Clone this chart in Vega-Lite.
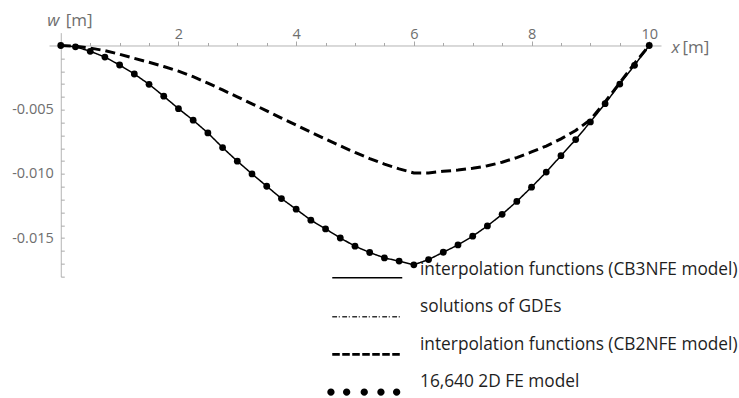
{
  "$schema": "https://vega.github.io/schema/vega-lite/v6.json",
  "width": 612,
  "height": 244,
  "autosize": {"type": "none"},
  "padding": {"left": 49, "top": 32.65, "right": 78, "bottom": 121.35},
  "background": "white",
  "config": {"view": {"stroke": null}, "font": "Open Sans"},
  "datasets": {
    "w": [
      {"x": 0, "w": 0, "s": "CB3NFE"}, {"x": 0.25, "w": -0.0001, "s": "CB3NFE"}, {"x": 0.5, "w": -0.00045, "s": "CB3NFE"}, {"x": 0.75, "w": -0.0009, "s": "CB3NFE"},
      {"x": 1, "w": -0.00152, "s": "CB3NFE"}, {"x": 1.25, "w": -0.00222, "s": "CB3NFE"}, {"x": 1.5, "w": -0.00302, "s": "CB3NFE"}, {"x": 1.75, "w": -0.00395, "s": "CB3NFE"},
      {"x": 2, "w": -0.00492, "s": "CB3NFE"}, {"x": 2.25, "w": -0.00582, "s": "CB3NFE"}, {"x": 2.5, "w": -0.00681, "s": "CB3NFE"}, {"x": 2.75, "w": -0.00795, "s": "CB3NFE"},
      {"x": 3, "w": -0.00901, "s": "CB3NFE"}, {"x": 3.25, "w": -0.01, "s": "CB3NFE"}, {"x": 3.5, "w": -0.01096, "s": "CB3NFE"}, {"x": 3.75, "w": -0.01192, "s": "CB3NFE"},
      {"x": 4, "w": -0.01275, "s": "CB3NFE"}, {"x": 4.25, "w": -0.0136, "s": "CB3NFE"}, {"x": 4.5, "w": -0.01428, "s": "CB3NFE"}, {"x": 4.75, "w": -0.01499, "s": "CB3NFE"},
      {"x": 5, "w": -0.01563, "s": "CB3NFE"}, {"x": 5.25, "w": -0.01612, "s": "CB3NFE"}, {"x": 5.5, "w": -0.01654, "s": "CB3NFE"}, {"x": 5.75, "w": -0.01679, "s": "CB3NFE"},
      {"x": 6, "w": -0.01708, "s": "CB3NFE"}, {"x": 6.25, "w": -0.01667, "s": "CB3NFE"}, {"x": 6.5, "w": -0.0161, "s": "CB3NFE"}, {"x": 6.75, "w": -0.01553, "s": "CB3NFE"},
      {"x": 7, "w": -0.01485, "s": "CB3NFE"}, {"x": 7.25, "w": -0.01405, "s": "CB3NFE"}, {"x": 7.5, "w": -0.01315, "s": "CB3NFE"}, {"x": 7.75, "w": -0.01214, "s": "CB3NFE"},
      {"x": 8, "w": -0.01103, "s": "CB3NFE"}, {"x": 8.25, "w": -0.00986, "s": "CB3NFE"}, {"x": 8.5, "w": -0.00858, "s": "CB3NFE"}, {"x": 8.75, "w": -0.00733, "s": "CB3NFE"},
      {"x": 9, "w": -0.00595, "s": "CB3NFE"}, {"x": 9.25, "w": -0.00453, "s": "CB3NFE"}, {"x": 9.5, "w": -0.003, "s": "CB3NFE"}, {"x": 9.75, "w": -0.00154, "s": "CB3NFE"},
      {"x": 10, "w": 0, "s": "CB3NFE"},

      {"x": 0, "w": 0, "s": "FE"}, {"x": 0.25, "w": -0.0001, "s": "FE"}, {"x": 0.5, "w": -0.00045, "s": "FE"}, {"x": 0.75, "w": -0.0009, "s": "FE"},
      {"x": 1, "w": -0.00152, "s": "FE"}, {"x": 1.25, "w": -0.00222, "s": "FE"}, {"x": 1.5, "w": -0.00302, "s": "FE"}, {"x": 1.75, "w": -0.00395, "s": "FE"},
      {"x": 2, "w": -0.00492, "s": "FE"}, {"x": 2.25, "w": -0.00582, "s": "FE"}, {"x": 2.5, "w": -0.00681, "s": "FE"}, {"x": 2.75, "w": -0.00795, "s": "FE"},
      {"x": 3, "w": -0.00901, "s": "FE"}, {"x": 3.25, "w": -0.01, "s": "FE"}, {"x": 3.5, "w": -0.01096, "s": "FE"}, {"x": 3.75, "w": -0.01192, "s": "FE"},
      {"x": 4, "w": -0.01275, "s": "FE"}, {"x": 4.25, "w": -0.0136, "s": "FE"}, {"x": 4.5, "w": -0.01428, "s": "FE"}, {"x": 4.75, "w": -0.01499, "s": "FE"},
      {"x": 5, "w": -0.01563, "s": "FE"}, {"x": 5.25, "w": -0.01612, "s": "FE"}, {"x": 5.5, "w": -0.01654, "s": "FE"}, {"x": 5.75, "w": -0.01679, "s": "FE"},
      {"x": 6, "w": -0.01708, "s": "FE"}, {"x": 6.25, "w": -0.01667, "s": "FE"}, {"x": 6.5, "w": -0.0161, "s": "FE"}, {"x": 6.75, "w": -0.01553, "s": "FE"},
      {"x": 7, "w": -0.01485, "s": "FE"}, {"x": 7.25, "w": -0.01405, "s": "FE"}, {"x": 7.5, "w": -0.01315, "s": "FE"}, {"x": 7.75, "w": -0.01214, "s": "FE"},
      {"x": 8, "w": -0.01103, "s": "FE"}, {"x": 8.25, "w": -0.00986, "s": "FE"}, {"x": 8.5, "w": -0.00858, "s": "FE"}, {"x": 8.75, "w": -0.00733, "s": "FE"},
      {"x": 9, "w": -0.00595, "s": "FE"}, {"x": 9.25, "w": -0.00453, "s": "FE"}, {"x": 9.5, "w": -0.003, "s": "FE"}, {"x": 9.75, "w": -0.00154, "s": "FE"},
      {"x": 10, "w": 0, "s": "FE"},

      {"x": 0, "w": 0, "s": "CB2NFE"}, {"x": 0.25, "w": -0.00005, "s": "CB2NFE"}, {"x": 0.5, "w": -0.0002, "s": "CB2NFE"}, {"x": 0.75, "w": -0.0004, "s": "CB2NFE"},
      {"x": 1, "w": -0.00068, "s": "CB2NFE"}, {"x": 1.25, "w": -0.001, "s": "CB2NFE"}, {"x": 1.5, "w": -0.00131, "s": "CB2NFE"}, {"x": 1.75, "w": -0.00164, "s": "CB2NFE"},
      {"x": 2, "w": -0.002, "s": "CB2NFE"}, {"x": 2.25, "w": -0.00243, "s": "CB2NFE"}, {"x": 2.5, "w": -0.00293, "s": "CB2NFE"}, {"x": 2.75, "w": -0.00346, "s": "CB2NFE"},
      {"x": 3, "w": -0.004, "s": "CB2NFE"}, {"x": 3.25, "w": -0.00454, "s": "CB2NFE"}, {"x": 3.5, "w": -0.00509, "s": "CB2NFE"}, {"x": 3.75, "w": -0.00565, "s": "CB2NFE"},
      {"x": 4, "w": -0.0062, "s": "CB2NFE"}, {"x": 4.25, "w": -0.00675, "s": "CB2NFE"}, {"x": 4.5, "w": -0.00729, "s": "CB2NFE"}, {"x": 4.75, "w": -0.00782, "s": "CB2NFE"},
      {"x": 5, "w": -0.00833, "s": "CB2NFE"}, {"x": 5.25, "w": -0.00881, "s": "CB2NFE"}, {"x": 5.5, "w": -0.00924, "s": "CB2NFE"}, {"x": 5.75, "w": -0.00961, "s": "CB2NFE"},
      {"x": 6, "w": -0.00992, "s": "CB2NFE"}, {"x": 6.25, "w": -0.00992, "s": "CB2NFE"}, {"x": 6.5, "w": -0.0098, "s": "CB2NFE"}, {"x": 6.75, "w": -0.0097, "s": "CB2NFE"},
      {"x": 7, "w": -0.00956, "s": "CB2NFE"}, {"x": 7.25, "w": -0.00937, "s": "CB2NFE"}, {"x": 7.5, "w": -0.00909, "s": "CB2NFE"}, {"x": 7.75, "w": -0.00873, "s": "CB2NFE"},
      {"x": 8, "w": -0.00829, "s": "CB2NFE"}, {"x": 8.25, "w": -0.00783, "s": "CB2NFE"}, {"x": 8.5, "w": -0.00727, "s": "CB2NFE"}, {"x": 8.75, "w": -0.00662, "s": "CB2NFE"},
      {"x": 9, "w": -0.00578, "s": "CB2NFE"}, {"x": 9.25, "w": -0.0044, "s": "CB2NFE"}, {"x": 9.5, "w": -0.0029, "s": "CB2NFE"}, {"x": 9.75, "w": -0.0014, "s": "CB2NFE"},
      {"x": 10, "w": 0, "s": "CB2NFE"}
    ]
  },
  "data": {"name": "w"},
  "resolve": {"axis": {"x": "independent", "y": "independent"}},
  "layer": [
    {
      "transform": [{"filter": "datum.s !== 'FE'"}],
      "mark": {"type": "line", "color": "black"},
      "encoding": {
        "x": {
          "field": "x", "type": "quantitative",
          "scale": {"domain": [-0.2, 10.2], "nice": false, "zero": false},
          "axis": {
            "orient": "top", "offset": -12.84, "values": [2, 4, 6, 8, 10], "format": "d",
            "grid": false, "domain": true, "domainColor": "#b4b4b4", "domainWidth": 1,
            "ticks": true, "tickSize": 4.5, "tickColor": "#a8a8a8", "tickWidth": 1,
            "labelFont": "Open Sans", "labelFontSize": 14.5, "labelColor": "#6e6e6e",
            "labelPadding": 2.7, "labelBaseline": "alphabetic", "labelFlush": false, "labelOverlap": false,
            "title": "x", "titleFont": "Open Sans", "titleFontSize": 17, "titleFontStyle": "italic",
            "titleFontWeight": "normal", "titleColor": "#6e6e6e", "titleX": 622, "titleY": 7.5,
            "titleAlign": "left", "titleBaseline": "alphabetic", "titleAngle": 0
          }
        },
        "y": {
          "field": "w", "type": "quantitative",
          "scale": {"domain": [-0.018, 0.001], "nice": false, "zero": false},
          "axis": {
            "orient": "left", "offset": -11.77, "values": [-0.005, -0.01, -0.015],
            "labelExpr": "'-' + format(-datum.value, '.3f')",
            "grid": false, "domain": true, "domainColor": "#b4b4b4", "domainWidth": 1,
            "ticks": false, "labelPadding": 7.5,
            "labelFont": "Open Sans", "labelFontSize": 14.5, "labelColor": "#6e6e6e",
            "labelFlush": false, "labelOverlap": false,
            "title": "w", "titleFont": "Open Sans", "titleFontSize": 17, "titleFontStyle": "italic",
            "titleFontWeight": "normal", "titleColor": "#6e6e6e", "titleX": -14, "titleY": -7.65,
            "titleAlign": "left", "titleBaseline": "alphabetic", "titleAngle": 0
          }
        },
        "strokeDash": {
          "field": "s", "type": "nominal",
          "scale": {"domain": ["CB3NFE", "GDE", "CB2NFE", "FE"], "range": [[1, 0], [6, 3, 1, 3], [10, 5], [1, 0]]},
          "legend": {
            "title": null, "orient": "none", "legendX": 283, "legendY": 228.5, "direction": "vertical",
            "padding": 0, "offset": 0, "symbolSize": 306.25, "symbolStrokeWidth": 0,
            "symbolStrokeColor": "transparent", "symbolOpacity": 1,
            "labelOffset": 70, "labelFont": "Open Sans", "labelFontSize": 17.3, "labelColor": "#1e1e1e",
            "labelLimit": 600, "rowPadding": 5.3,
            "labelExpr": "datum.value === 'CB3NFE' ? 'interpolation functions (CB3NFE model)' : datum.value === 'GDE' ? 'solutions of GDEs' : datum.value === 'CB2NFE' ? 'interpolation functions (CB2NFE model)' : '16,640 2D FE model'",
            "symbolFillColor": {"expr": "datum.value === 'GDE' ? '#333333' : '#000000'"},
            "symbolType": {"expr": "datum.value === 'CB3NFE' ? 'M-1,-1.5M-1,2M-1,0.784L7,0.784L7,0.956L-1,0.956Z' : datum.value === 'GDE' ? 'M-1,-1.5M-1,2M-1,0.98L-0.45,0.98L-0.45,1.15L-1,1.15ZM-0.26,0.98L-0.14,0.98L-0.14,1.15L-0.26,1.15ZM0.143,0.98L0.693,0.98L0.693,1.15L0.143,1.15ZM0.883,0.98L1.003,0.98L1.003,1.15L0.883,1.15ZM1.286,0.98L1.836,0.98L1.836,1.15L1.286,1.15ZM2.026,0.98L2.146,0.98L2.146,1.15L2.026,1.15ZM2.429,0.98L2.979,0.98L2.979,1.15L2.429,1.15ZM3.169,0.98L3.289,0.98L3.289,1.15L3.169,1.15ZM3.571,0.98L4.121,0.98L4.121,1.15L3.571,1.15ZM4.311,0.98L4.431,0.98L4.431,1.15L4.311,1.15ZM4.714,0.98L5.264,0.98L5.264,1.15L4.714,1.15ZM5.454,0.98L5.574,0.98L5.574,1.15L5.454,1.15ZM5.857,0.98L6.407,0.98L6.407,1.15L5.857,1.15ZM6.597,0.98L6.717,0.98L6.717,1.15L6.597,1.15Z' : datum.value === 'CB2NFE' ? 'M-1,-1.5M-1,2M-1,0.929L-0.14,0.929L-0.14,1.271L-1,1.271ZM0.143,0.929L1.003,0.929L1.003,1.271L0.143,1.271ZM1.286,0.929L2.146,0.929L2.146,1.271L1.286,1.271ZM2.429,0.929L3.289,0.929L3.289,1.271L2.429,1.271ZM3.571,0.929L4.431,0.929L4.431,1.271L3.571,1.271ZM4.714,0.929L5.574,0.929L5.574,1.271L4.714,1.271ZM5.857,0.929L6.717,0.929L6.717,1.271L5.857,1.271Z' : 'M-1,-1.5M-1,2M-1.569,1.15A0.42,0.42,0,1,1,-0.729,1.15A0.42,0.42,0,1,1,-1.569,1.15ZM0.226,1.15A0.42,0.42,0,1,1,1.066,1.15A0.42,0.42,0,1,1,0.226,1.15ZM2.237,1.15A0.42,0.42,0,1,1,3.077,1.15A0.42,0.42,0,1,1,2.237,1.15ZM4.146,1.15A0.42,0.42,0,1,1,4.986,1.15A0.42,0.42,0,1,1,4.146,1.15ZM5.94,1.15A0.42,0.42,0,1,1,6.78,1.15A0.42,0.42,0,1,1,5.94,1.15Z'"}
          }
        },
        "strokeWidth": {"condition": {"test": "datum.s === 'CB2NFE'", "value": 3}, "value": 1.5}
      }
    },
    {
      "transform": [{"filter": "datum.s === 'FE'"}],
      "mark": {"type": "point", "filled": true, "color": "black", "size": 46, "opacity": 1},
      "encoding": {
        "x": {
          "field": "x", "type": "quantitative",
          "scale": {"domain": [-0.2, 10.2], "nice": false, "zero": false},
          "axis": {
            "orient": "top", "offset": -12.84,
            "values": [0.5, 1, 1.5, 2, 2.5, 3, 3.5, 4, 4.5, 5, 5.5, 6, 6.5, 7, 7.5, 8, 8.5, 9, 9.5, 10],
            "labels": false, "domain": false, "grid": false,
            "ticks": true, "tickSize": 3, "tickColor": "#a8a8a8", "tickWidth": 1,
            "title": "[m]", "titleFont": "Open Sans", "titleFontSize": 17, "titleFontStyle": "normal",
            "titleFontWeight": "normal", "titleColor": "#6e6e6e", "titleX": 633, "titleY": 7.5,
            "titleAlign": "left", "titleBaseline": "alphabetic", "titleAngle": 0
          }
        },
        "y": {
          "field": "w", "type": "quantitative",
          "scale": {"domain": [-0.018, 0.001], "nice": false, "zero": false},
          "axis": {
            "orient": "left", "offset": -11.77,
            "values": [-0.001, -0.002, -0.003, -0.004, -0.005, -0.006, -0.007, -0.008, -0.009, -0.01, -0.011, -0.012, -0.013, -0.014, -0.015, -0.016, -0.017, -0.018],
            "labels": false, "domain": false, "grid": false,
            "ticks": true, "tickSize": -3.5, "tickColor": "#a8a8a8", "tickWidth": 1,
            "title": "[m]", "titleFont": "Open Sans", "titleFontSize": 17, "titleFontStyle": "normal",
            "titleFontWeight": "normal", "titleColor": "#6e6e6e", "titleX": 4.5, "titleY": -7.65,
            "titleAlign": "left", "titleBaseline": "alphabetic", "titleAngle": 0
          }
        }
      }
    }
  ]
}
